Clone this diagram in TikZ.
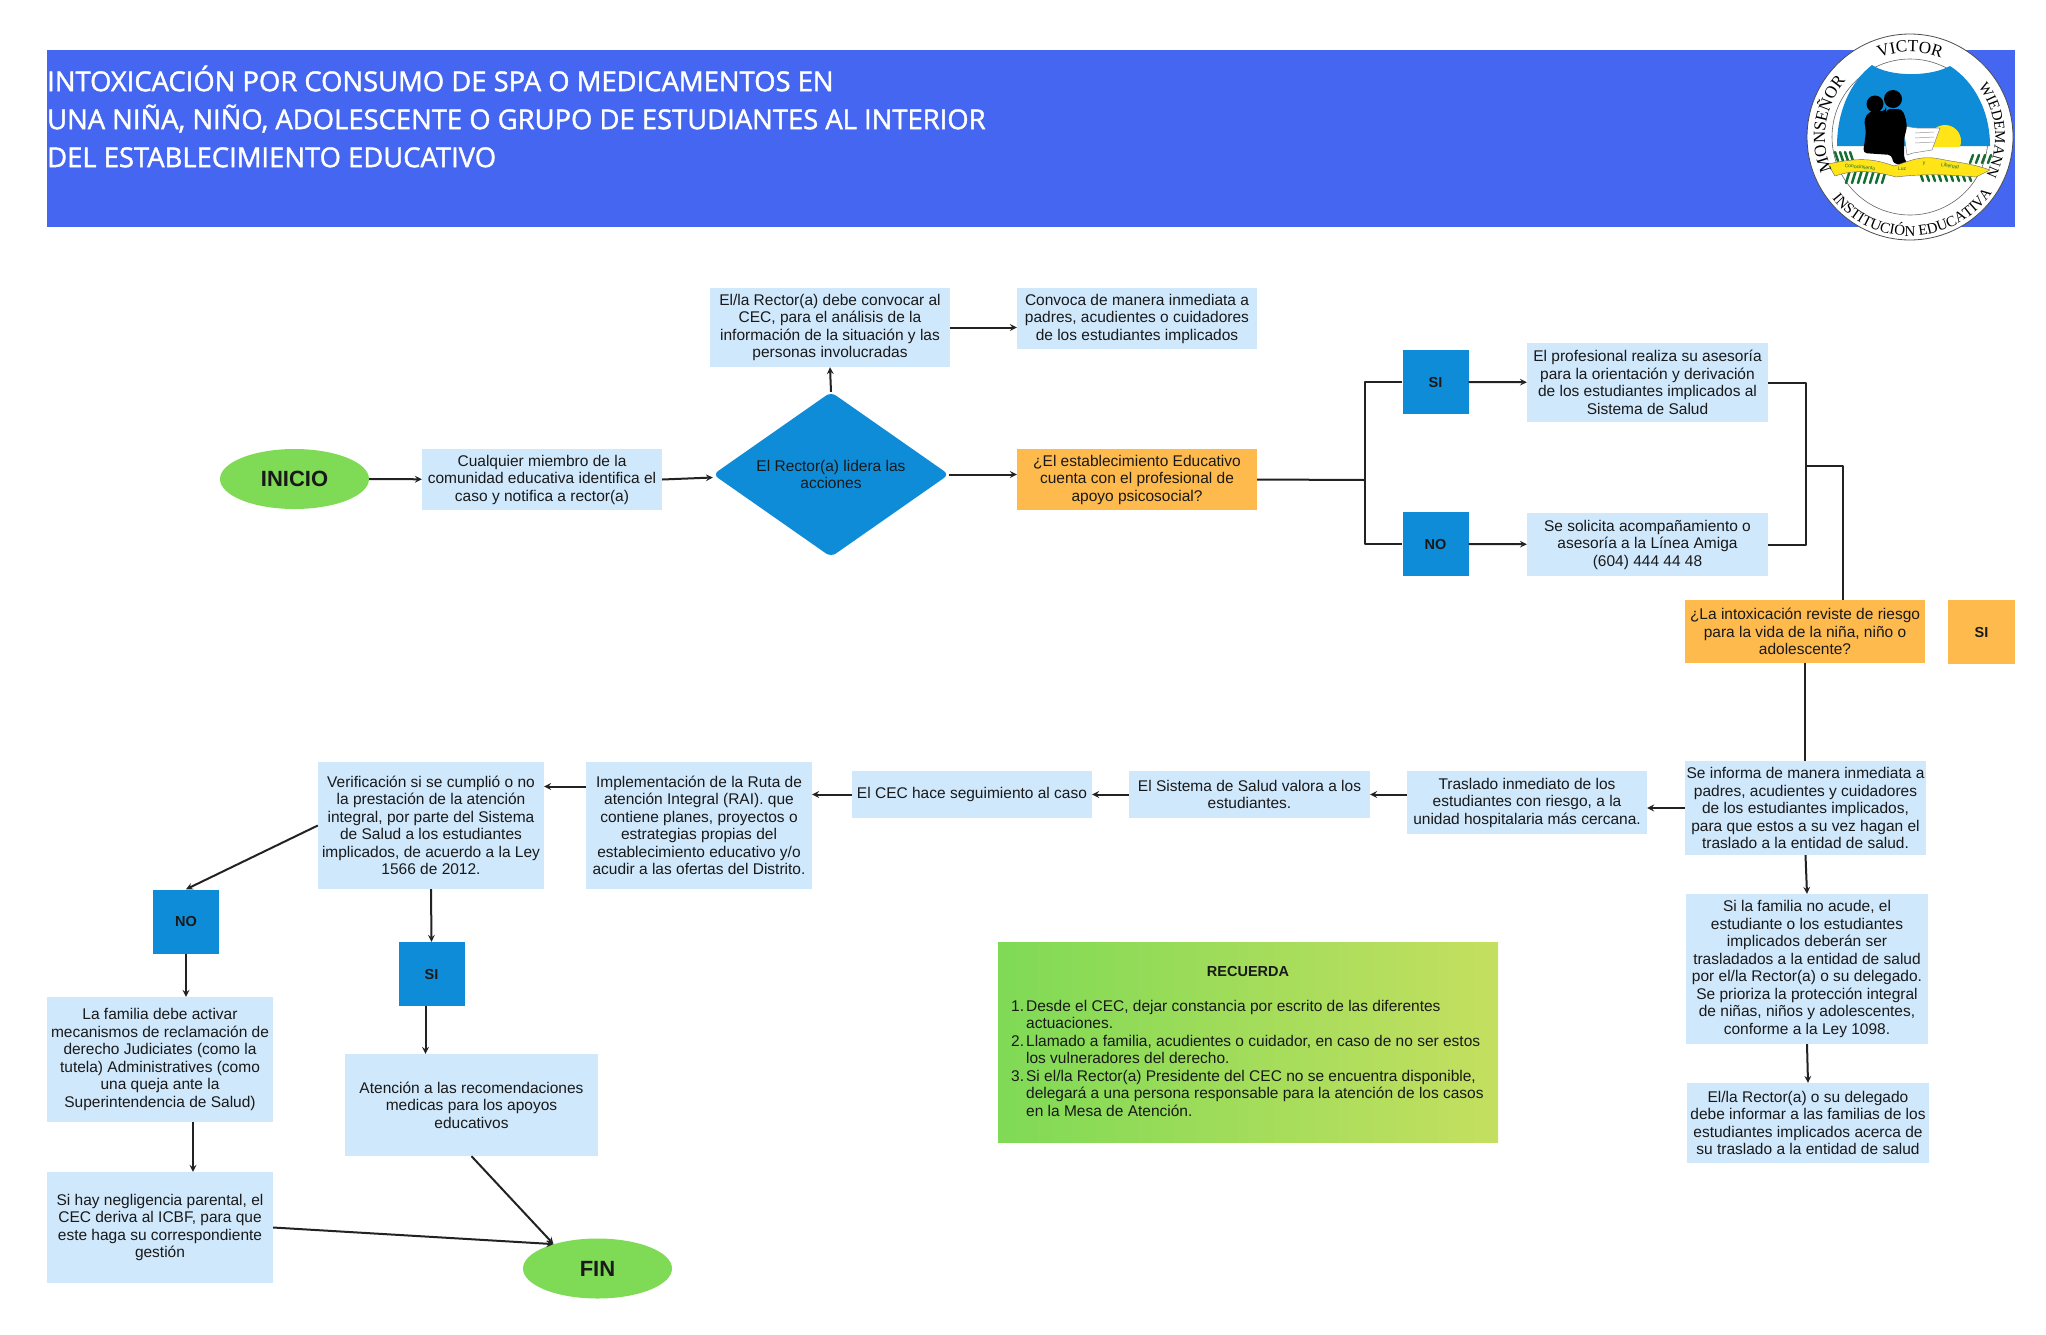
\documentclass[tikz,border=0pt]{standalone}
\usepackage{fontspec}
\setmainfont{Liberation Sans}
\newfontfamily\titlefont[FakeBold=1.5]{Open Sans}
\newfontfamily\logofont{Liberation Serif}
\usetikzlibrary{shapes.geometric,decorations.text}
\definecolor{headerblue}{RGB}{68, 102, 240}
\definecolor{paleblue}{RGB}{208, 232, 252}
\definecolor{askorange}{RGB}{255, 186, 77}
\definecolor{tagblue}{RGB}{15, 140, 216}
\definecolor{endgreen}{RGB}{127, 218, 85}
\definecolor{limegreen}{RGB}{197, 223, 96}
\definecolor{wirecolor}{RGB}{34, 34, 34}
\definecolor{leafgreen}{RGB}{20, 110, 50}
\definecolor{sunyellow}{RGB}{255, 228, 23}
\begin{document}
\begin{tikzpicture}[
    x=1pt, y=-1pt,
    sized/.style 2 args={minimum width=#1pt, minimum height=#2pt},
    every node/.style={inner sep=0pt, align=center, text=black!90, font=\fontsize{15.5}{17.5}\selectfont},
    infobox/.style={rectangle, fill=paleblue},
    askbox/.style={rectangle, fill=askorange},
    tagbox/.style={rectangle, fill=tagblue, sized={66}{64}, font=\fontsize{14.5}{17.5}\selectfont\bfseries},
    asktag/.style={rectangle, fill=askorange, sized={67}{64}, font=\fontsize{14.5}{17.5}\selectfont\bfseries},
    endpoint/.style={ellipse, fill=endgreen, sized={149}{60}, font=\fontsize{22}{26}\selectfont\bfseries},
    wire/.style={draw=wirecolor, line width=2pt, line join=round},
    conn/.style={wire, ->, >=stealth}
]
\useasboundingbox (0,0) rectangle (2046,1334);

% header
\node[rectangle, fill=headerblue, sized={1968}{177}] (header) at (1031,138.5) {};
\node[anchor=west, align=left, text=white, font=\titlefont\fontsize{27.4}{38}\selectfont] (title) at (47,116.5) {INTOXICACIÓN POR CONSUMO DE SPA O MEDICAMENTOS EN\\UNA NIÑA, NIÑO, ADOLESCENTE O GRUPO DE ESTUDIANTES AL INTERIOR\\DEL ESTABLECIMIENTO EDUCATIVO};

% logo
\begin{scope}[shift={(1910,137)}, y=1pt]
\fill[white] (0,0) circle (103);
\draw[black!70, line width=0.8pt] (0,0) circle (103);
\draw[black!60, line width=0.6pt] (0,0) circle (78);
\fill[tagblue] (-38,72) .. controls (-20,60) and (20,60) .. (40,71) .. controls (65,55) and (80,25) .. (80,-9) -- (-73,-9) .. controls (-73,25) and (-60,55) .. (-38,72) -- cycle;
\begin{scope}
\clip (-80,-9) rectangle (80,60);
\fill[sunyellow] (35,-4) circle (16);
\end{scope}
\fill[white, draw=black!50, line width=0.5pt] (-7,11) -- (7,9) -- (30,9) -- (22,-13) -- (3,-16) -- (-3,-18) -- cycle;
\foreach \liney in {4,-1,-6}
  \draw[black!40, line width=0.5pt] (5,\liney) -- (24,\liney+1);
\fill[black, rounded corners=4pt] (-47,-16) -- (-44,5) -- (-46,18) -- (-40,26) -- (-24,26) -- (-24,28) -- (-8,28) -- (-4,18) -- (-3,8) -- (-6,0) -- (-6,-22) -- (-2,-27) -- (-17,-27) -- (-18,-18) -- cycle;
\fill[black] (-35,33) circle (8.5);
\fill[black] (-17,38) circle (9);
\foreach \leafx in {-60,-54,...,-20}
  \draw[leafgreen, line width=2.5pt, line cap=round] (\leafx,-33) -- ++(-4,-13);
\foreach \leafx in {8,14,...,56}
  \draw[leafgreen, line width=2.5pt, line cap=round] (\leafx,-30) -- ++(5,-14);
\foreach \leafx in {-72,-67,-62,-57}
  \draw[leafgreen, line width=2.5pt, line cap=round] (\leafx,-24) -- ++(-3,9);
\foreach \leafx in {60,66,72,78}
  \draw[leafgreen, line width=2.5pt, line cap=round] (\leafx,-26) -- ++(3,8);
\fill[sunyellow, draw=black!60, line width=0.4pt] (-82,-27) .. controls (-50,-20) and (-35,-22) .. (-16,-29) .. controls (0,-24) and (10,-18) .. (30,-22) .. controls (50,-26) and (60,-26) .. (80,-33) -- (66,-40) .. controls (40,-38) and (20,-36) .. (-14,-40) .. controls (-35,-34) and (-55,-32) .. (-75,-39) -- cycle;
\node[rotate=-6, text=leafgreen, font=\fontsize{5}{6}\selectfont] (lemaA) at (-50,-30) {Conocimiento};
\node[text=leafgreen, font=\fontsize{5}{6}\selectfont] (lemaB) at (-8,-32) {Luz};
\node[text=leafgreen, font=\fontsize{5}{6}\selectfont] (lemaC) at (14,-27) {y};
\node[rotate=-10, text=leafgreen, font=\fontsize{5}{6}\selectfont] (lemaD) at (40,-29) {Libertad};
\path[decorate, decoration={text along path, text align=center, text={|\logofont\fontsize{17}{17}\selectfont|VICTOR}}] (115:85) arc[start angle=115, end angle=65, radius=85];
\path[decorate, decoration={text along path, text align=center, text={|\logofont\fontsize{15}{15}\selectfont|WIEDEMANN}}] (38:85) arc[start angle=38, end angle=-28, radius=85];
\path[decorate, decoration={text along path, text align=center, text={|\logofont\fontsize{17}{17}\selectfont|MONSEÑOR}}] (200:85) arc[start angle=200, end angle=142, radius=85];
\path[decorate, decoration={text along path, text align=center, text={|\logofont\fontsize{15}{15}\selectfont|INSTITUCIÓN EDUCATIVA}}] (216:99) arc[start angle=216, end angle=328, radius=99];
\end{scope}

% top row
\node[endpoint] (inicio) at (294.5,479) {INICIO};
\node[infobox, sized={240}{61}] (caso) at (542,479.5) {Cualquier miembro de la\\comunidad educativa identifica el\\caso y notifica a rector(a)};
\node[diamond, aspect=1.41, fill=tagblue, sized={236}{165}, rounded corners=6pt] (lidera) at (831,474.5) {El Rector(a) lidera las\\acciones};
\node[infobox, sized={240}{79}] (convocar) at (830,327.5) {El/la Rector(a) debe convocar al\\CEC, para el análisis de la\\información de la situación y las\\personas involucradas};
\node[infobox, sized={240}{61}] (padres) at (1137,318.5) {Convoca de manera inmediata a\\padres, acudientes o cuidadores\\de los estudiantes implicados};
\node[askbox, sized={240}{61}] (cuenta) at (1137,479.5) {¿El establecimiento Educativo\\cuenta con el profesional de\\apoyo psicosocial?};
\node[tagbox] (siA) at (1435.5,382) {SI};
\node[tagbox] (noA) at (1435.5,544) {NO};
\node[infobox, sized={241}{79}] (asesoria) at (1647.5,382.5) {El profesional realiza su asesoría\\para la orientación y derivación\\de los estudiantes implicados al\\Sistema de Salud};
\node[infobox, sized={241}{63}] (linea) at (1647.5,544.5) {Se solicita acompañamiento o\\asesoría a la Línea Amiga\\(604) 444 44 48};

% right column
\node[askbox, sized={240}{63}] (riesgo) at (1805,631.5) {¿La intoxicación reviste de riesgo\\para la vida de la niña, niño o\\adolescente?};
\node[asktag] (siB) at (1981.5,632) {SI};
\node[infobox, sized={241}{94}] (informa) at (1805.5,808) {Se informa de manera inmediata a\\padres, acudientes y cuidadores\\de los estudiantes implicados,\\para que estos a su vez hagan el\\traslado a la entidad de salud.};
\node[infobox, sized={242}{150}] (delegado) at (1807,969) {Si la familia no acude, el\\estudiante o los estudiantes\\implicados deberán ser\\trasladados a la entidad de salud\\por el/la Rector(a) o su delegado.\\Se prioriza la protección integral\\de niñas, niños y adolescentes,\\conforme a la Ley 1098.};
\node[infobox, sized={242}{80}] (acerca) at (1808,1123) {El/la Rector(a) o su delegado\\debe informar a las familias de los\\estudiantes implicados acerca de\\su traslado a la entidad de salud};

% middle row
\node[infobox, sized={240}{63}] (traslado) at (1527,802.5) {Traslado inmediato de los\\estudiantes con riesgo, a la\\unidad hospitalaria más cercana.};
\node[infobox, sized={241}{47}] (valora) at (1249.5,794.5) {El Sistema de Salud valora a los\\estudiantes.};
\node[infobox, sized={240}{47}] (seguimiento) at (972,794.5) {El CEC hace seguimiento al caso};
\node[infobox, sized={226}{127}] (ruta) at (699,825.5) {Implementación de la Ruta de\\atención Integral (RAI). que\\contiene planes, proyectos o\\estrategias propias del\\establecimiento educativo y/o\\acudir a las ofertas del Distrito.};
\node[infobox, sized={226}{127}] (verifica) at (431,825.5) {Verificación si se cumplió o no\\la prestación de la atención\\integral, por parte del Sistema\\de Salud a los estudiantes\\implicados, de acuerdo a la Ley\\1566 de 2012.};

% bottom left
\node[tagbox] (noC) at (186,921.5) {NO};
\node[tagbox] (siC) at (431.5,974) {SI};
\node[infobox, sized={226}{125}] (judicial) at (160,1059.5) {La familia debe activar\\mecanismos de reclamación de\\derecho Judiciates (como la\\tutela) Administratives (como\\una queja ante la\\Superintendencia de Salud)};
\node[infobox, sized={226}{111}] (icbf) at (160,1227.5) {Si hay negligencia parental, el\\CEC deriva al ICBF, para que\\este haga su correspondiente\\gestión};
\node[infobox, sized={253}{102}] (atencion) at (471.5,1105) {Atención a las recomendaciones\\medicas para los apoyos\\educativos};
\node[endpoint] (fin) at (597.5,1268.5) {FIN};

% recuerda
\node[rectangle, left color=endgreen, right color=limegreen, sized={500}{200}] (recuerda) at (1248,1042) {};
\node[font=\fontsize{14.5}{17.5}\selectfont\bfseries] (recuerdatit) at (1248,971) {RECUERDA};
\node[anchor=west, align=left] (recuerdalist) at (1011,1060) {\begin{tabular}{@{}r@{\hspace{2pt}}l@{}}
1. & Desde el CEC, dejar constancia por escrito de las diferentes\\
 & actuaciones.\\
2. & Llamado a familia, acudientes o cuidador, en caso de no ser estos\\
 & los vulneradores del derecho.\\
3. & Si el/la Rector(a) Presidente del CEC no se encuentra disponible,\\
 & delegará a una persona responsable para la atención de los casos\\
 & en la Mesa de Atención.
\end{tabular}};

\coordinate (jA) at (1365,480);
\coordinate (jB) at (1806,466);
\coordinate (jC) at (1843,466);

\draw[conn] (inicio) -- (caso);
\draw[conn] (caso.east) -- ([yshift=-3pt]lidera.west);
\draw[conn] (lidera.north) -- (convocar.south);
\draw[conn] (convocar.east) -- (convocar.east -| padres.west);
\draw[conn] (lidera.east) -- (lidera.east -| cuenta.west);
\draw[wire] (cuenta.east) -- (jA);
\draw[wire] (siA.west) -| (jA) -- (jA |- noA.west) -- (noA.west);
\draw[conn] (siA) -- (asesoria);
\draw[conn] (noA) -- (linea);
\draw[wire] (asesoria.east) -| (jB) |- (linea.east);
\draw[wire] (jB) -- (jC) -- (jC |- riesgo.north);
\draw[wire] (riesgo.south) -- (riesgo.south |- informa.north);
\draw[conn] (informa.south) -- (delegado.north);
\draw[conn] (delegado.south) -- (acerca.north);
\draw[conn] (informa.west) -- (informa.west -| traslado.east);
\draw[conn] (valora.east -| traslado.west) -- (valora.east);
\draw[conn] (valora.west) -- (seguimiento.east);
\draw[conn] (seguimiento.west) -- (seguimiento.west -| ruta.east);
\draw[conn] ([yshift=39pt]ruta.west) -- ([yshift=39pt]verifica.east);
\draw[conn] (verifica.west) -- (noC.north);
\draw[conn] (verifica.south) -- (siC.north);
\draw[conn] (noC.south) -- (noC.south |- judicial.north);
\draw[conn] ([xshift=-6pt]siC.south) -- ([xshift=-6pt]siC.south |- atencion.north);
\draw[conn] ([xshift=33pt]judicial.south) -- ([xshift=33pt]icbf.north);
\draw[conn] (icbf.east) -- (fin.151);
\draw[conn] (atencion.south) -- (fin.151);
\end{tikzpicture}
\end{document}
